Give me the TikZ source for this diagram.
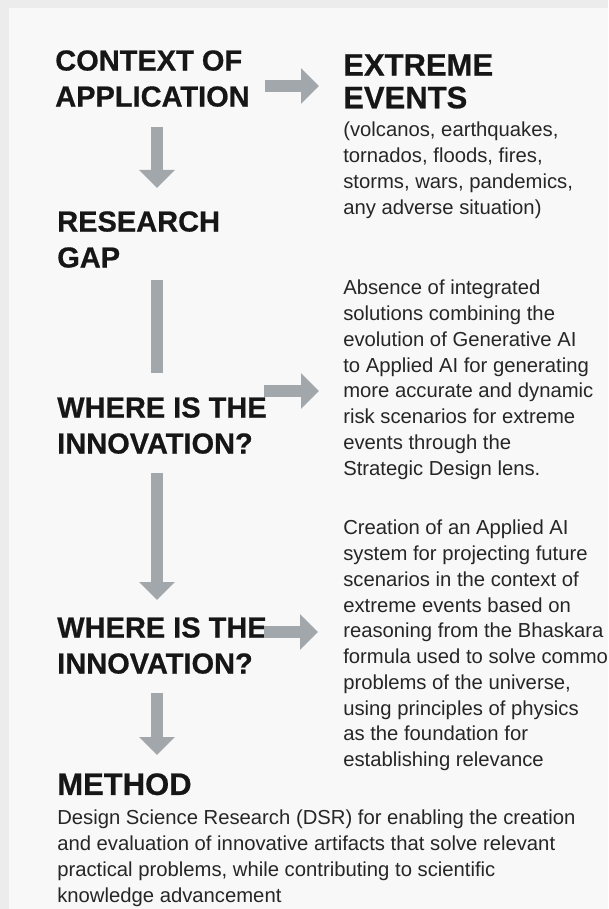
\documentclass[tikz,border=0pt]{standalone}
\usepackage{fontspec}
\setmainfont{Liberation Sans}
\newfontfamily\headfont{Liberation Sans}[BoldFeatures={FakeBold=0.6}]
\usetikzlibrary{arrows.meta}

\definecolor{arrowgray}{RGB}{161,167,171}
\definecolor{inkblack}{RGB}{22,22,22}
\definecolor{bodyblack}{RGB}{38,38,38}
\definecolor{pageback}{RGB}{248,248,248}
\definecolor{pageedge}{RGB}{236,236,236}

\tikzset{
  steptitle/.style={anchor=north west, inner sep=0pt, align=left, text=inkblack,
    font=\headfont\fontsize{21.75pt}{27pt}\selectfont\bfseries},
  bigtitle/.style={steptitle, font=\headfont\fontsize{23.25pt}{24.5pt}\selectfont\bfseries},
  bodytext/.style={anchor=north west, inner sep=0pt, align=left, text=bodyblack,
    font=\fontsize{15.2pt}{19.3pt}\selectfont},
  flowbar/.style={draw=arrowgray, line width=9pt},
  flowarrow/.style={flowbar, -{Triangle[length=13.5pt,width=26pt]}}
}

\begin{document}
\begin{tikzpicture}[x=0.75pt,y=-0.75pt]
  \useasboundingbox (0,0) rectangle (608,909);
  \fill[pageedge] (0,0) rectangle (608,909);
  \fill[pageback] (9,8) rectangle (608,909);

  % left column: the steps
  \node[steptitle] at (55,50) (ctx) {CONTEXT OF\\APPLICATION};
  \node[steptitle] at (57,211) (gap) {RESEARCH\\GAP};
  \node[steptitle] at (57,397) (where1) {WHERE IS THE\\INNOVATION?};
  \node[steptitle] at (57,617) (where2) {WHERE IS THE\\INNOVATION?};
  \node[bigtitle] at (57,773) (method) {METHOD};

  % right column: what each step says
  \node[bigtitle] at (343,54) (events) {EXTREME\\EVENTS};
  \node[bodytext] at (343,122) (evlist) {(volcanos, earthquakes,\\
    tornados, floods, fires,\\
    storms, wars, pandemics,\\
    any adverse situation)};
  \node[bodytext] at (343,280) (absence) {Absence of integrated\\
    solutions combining the\\
    evolution of Generative AI\\
    to Applied AI for generating\\
    more accurate and dynamic\\
    risk scenarios for extreme\\
    events through the\\
    Strategic Design lens.};
  \node[bodytext] at (343,520) (creation) {Creation of an Applied AI\\
    system for projecting future\\
    scenarios in the context of\\
    extreme events based on\\
    reasoning from the Bhaskara\\
    formula used to solve common\\
    problems of the universe,\\
    using principles of physics\\
    as the foundation for\\
    establishing relevance};
  \node[bodytext] at (57,810) (dsr) {Design Science Research (DSR) for enabling the creation\\
    and evaluation of innovative artifacts that solve relevant\\
    practical problems, while contributing to scientific\\
    knowledge advancement};

  \coordinate (spine) at (157,0);

  % arrows to the right
  \draw[flowarrow] ([shift={(15,36)}]ctx.north east) -- ([shift={(-24,36)}]ctx.north east -| events.west);
  \draw[flowarrow] ([shift={(-3,-6)}]where1.north east) -- ([shift={(-24,-6)}]where1.north east -| absence.west);
  \draw[flowarrow] ([shift={(-3,15)}]where2.north east) -- ([shift={(-25,15)}]where2.north east -| creation.west);

  % arrows down the spine
  \draw[flowarrow] ([shift={(0,20)}]spine |- ctx.south) -- ([shift={(0,-23)}]spine |- gap.north);
  \draw[flowbar] ([shift={(0,12)}]spine |- gap.south) -- ([shift={(0,-24)}]spine |- where1.north);
  \draw[flowarrow] ([shift={(0,19)}]spine |- where1.south) -- ([shift={(0,-17)}]spine |- where2.north);
  \draw[flowarrow] ([shift={(0,19)}]spine |- where2.south) -- ([shift={(0,-18)}]spine |- method.north);
\end{tikzpicture}
\end{document}
